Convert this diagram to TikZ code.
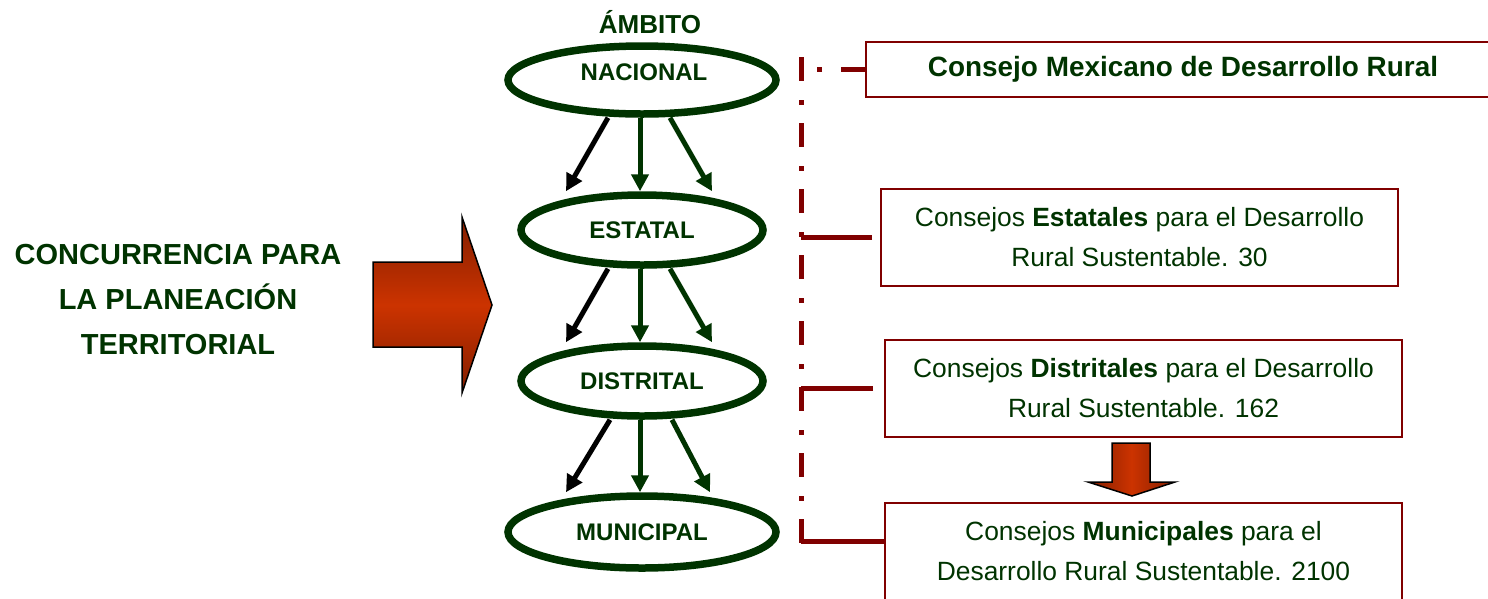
\documentclass[tikz,border=0pt]{standalone}
\usepackage{fontspec}
\setmainfont{Liberation Sans}
\usetikzlibrary{arrows.meta,shapes.geometric}

\definecolor{verde}{RGB}{0,51,0}
\definecolor{guinda}{RGB}{128,0,0}
\definecolor{rojo}{RGB}{204,51,0}
\definecolor{rojoosc}{RGB}{130,30,0}

\begin{document}
\begin{tikzpicture}[x=1pt,y=-1pt,
	nivel/.style={shape=ellipse,draw=verde,line width=7.5pt,inner sep=0pt,text=verde,font=\fontsize{24}{28}\selectfont\bfseries},
	consejo/.style={draw=guinda,line width=2pt,minimum width=517pt,minimum height=97pt,inner sep=0pt,align=center,text=verde,font=\fontsize{26.4}{40}\selectfont},
	baja/.style={line width=5pt,-{Triangle[width=17pt,length=17pt]}},
	liga/.style={draw=guinda,line width=5pt},
	punteada/.style={liga,dash pattern=on 24pt off 19pt on 5pt off 18pt}]
	\useasboundingbox (0,0) rectangle (1488,598);
	\clip (0,0) rectangle (1488,598);
	% niveles
	\path (650,33) node (ambito) [anchor=base,text=verde,font=\fontsize{26}{28}\selectfont\bfseries] {ÁMBITO}
		  (642,80) node (nac) [nivel,minimum width=268pt,minimum height=68pt] {}
		  (644,72) node (nact) [text=verde,font=\fontsize{24}{28}\selectfont\bfseries] {NACIONAL}
		  (642,230) node (est) [nivel,minimum width=242pt,minimum height=70pt] {ESTATAL}
		  (642,381) node (dis) [nivel,minimum width=242pt,minimum height=70pt] {DISTRITAL}
		  (642,532) node (mun) [nivel,minimum width=268pt,minimum height=72pt] {MUNICIPAL};
	\draw[baja,black] ([xshift=-34]nac.south) -- ([xshift=-76]est.north);
	\draw[baja,verde] ([xshift=-2]nac.south) -- ([xshift=-2]est.north);
	\draw[baja,verde] ([xshift=28]nac.south) -- ([xshift=70]est.north);
	\draw[baja,black] ([xshift=-34]est.south) -- ([xshift=-76]dis.north);
	\draw[baja,verde] ([xshift=-2]est.south) -- ([xshift=-2]dis.north);
	\draw[baja,verde] ([xshift=28]est.south) -- ([xshift=70]dis.north);
	\draw[baja,black] ([xshift=-32]dis.south) -- ([xshift=-76]mun.north);
	\draw[baja,verde] ([xshift=-2]dis.south) -- ([xshift=-2]mun.north);
	\draw[baja,verde] ([xshift=30]dis.south) -- ([xshift=68]mun.north);
	% concurrencia
	\path (178,300) node (concurrencia) [align=center,text=verde,font=\fontsize{29}{45}\selectfont\bfseries] {CONCURRENCIA PARA\\LA PLANEACIÓN\\TERRITORIAL};
	\shade[top color=rojoosc,bottom color=rojoosc,middle color=rojo,draw=black,line width=1.5pt]
		(373,262) -- (462,262) -- (462,217) -- (492,305) -- (462,393) -- (462,347) -- (373,347) -- cycle;
	% consejos
	\path (1183,69.5) node (mex) [draw=guinda,line width=2pt,minimum width=634pt,minimum height=55pt,text=verde,font=\fontsize{27.9}{32}\selectfont\bfseries] {Consejo Mexicano de Desarrollo Rural}
		  (1139.5,237) node (estc) [consejo] {Consejos \textbf{Estatales} para el Desarrollo\\Rural Sustentable. 30}
		  (1143.5,388) node (disc) [consejo] {Consejos \textbf{Distritales} para el Desarrollo\\Rural Sustentable. 162}
		  (1143.5,551.5) node (munc) [consejo] {Consejos \textbf{Municipales} para el\\Desarrollo Rural Sustentable. 2100};
	\shade[left color=rojoosc,right color=rojoosc,middle color=rojo,draw=black,line width=1.5pt]
		(1112,443) -- (1150,443) -- (1150,482) -- (1175,482) -- (1132,496) -- (1088,482) -- (1112,482) -- cycle;
	% ligas
	\coordinate (lomo) at (801,57);
	\coordinate (pie) at (801,543);
	\coordinate (mlado) at ([yshift=10pt]munc.west);
	\draw[punteada] (lomo) -- (pie);
	\draw[punteada] (mex.west) -- (mex.west -| lomo);
	\draw[liga,shorten <=8pt] (estc.west) -- (estc.west -| lomo);
	\draw[liga,shorten <=11pt] (disc.west) -- (disc.west -| lomo);
	\draw[liga] (mlado) -- (mlado -| lomo);
\end{tikzpicture}
\end{document}
